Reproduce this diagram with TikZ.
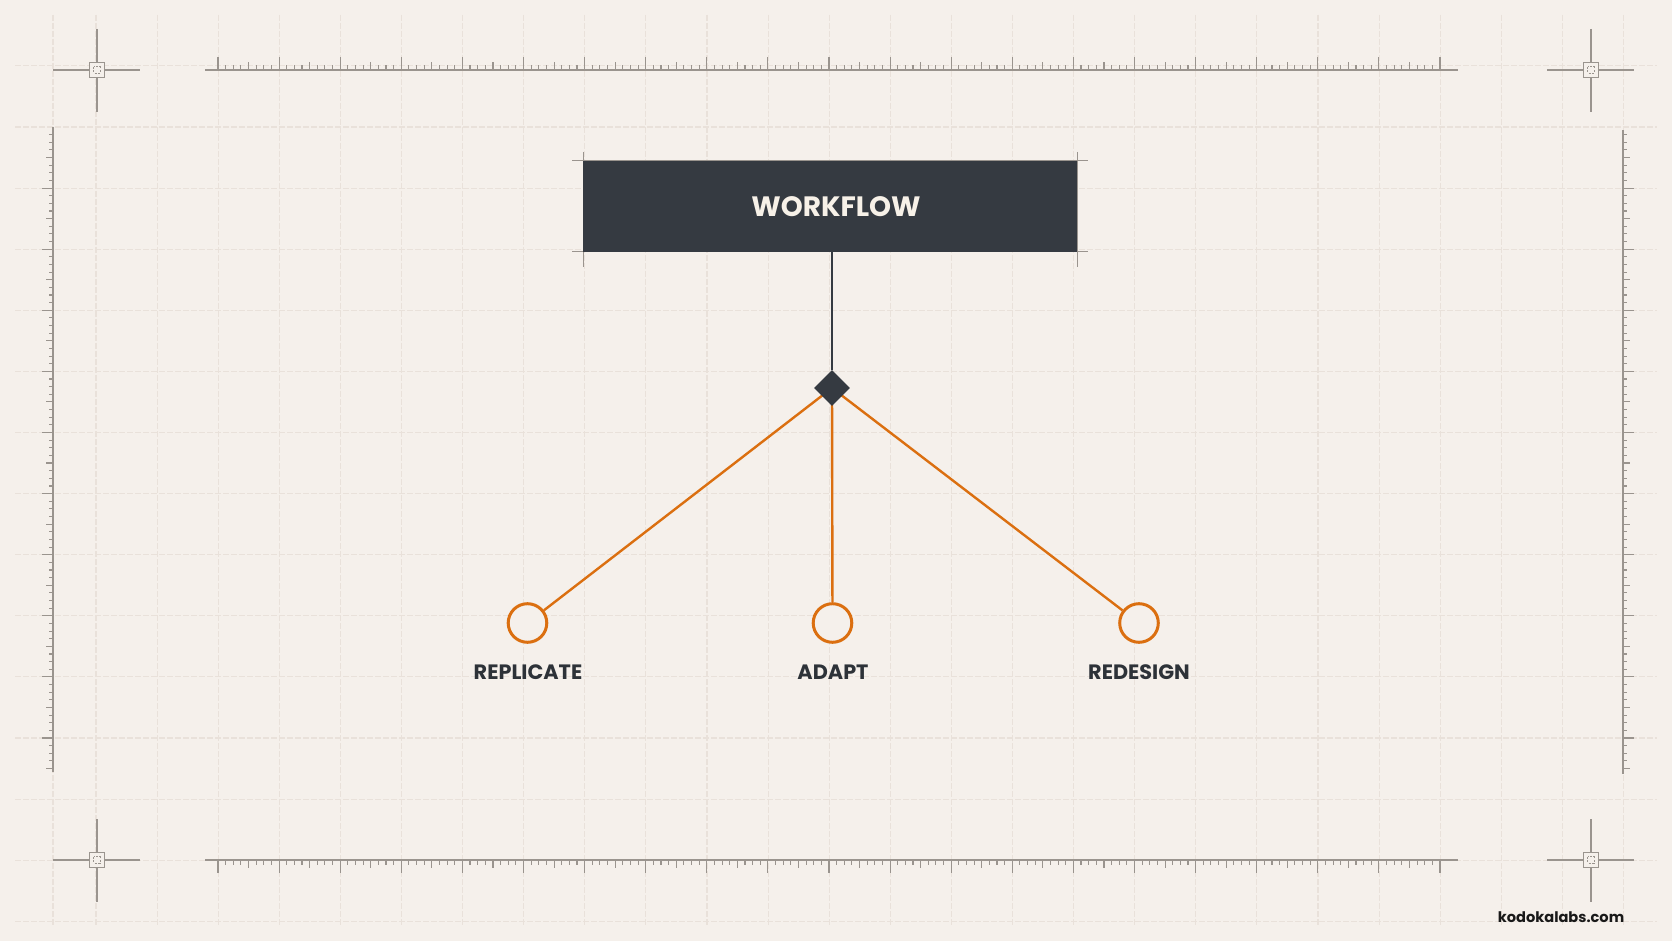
\documentclass[tikz,border=0pt]{standalone}
\usepackage{fontspec}
\setmainfont{Poppins}
\usetikzlibrary{shapes.geometric}
\pgfdeclarelayer{back}
\pgfdeclarelayer{mid}
\pgfsetlayers{back,mid,main}
\definecolor{bg}{HTML}{F5F0EB}
\definecolor{gridc}{HTML}{E9E1DA}
\definecolor{rulec}{HTML}{9A948E}
\definecolor{boxc}{HTML}{353A41}
\definecolor{orangec}{HTML}{DB6F10}
\definecolor{labelc}{HTML}{2D3238}
\definecolor{boxtext}{HTML}{F7F1E8}
\tikzset{
  gridline/.style={draw=gridc, line width=0.55pt, dash pattern=on 3pt off 1pt},
  ruler/.style={draw=rulec, line width=0.55pt},
  cross/.style={draw=rulec, line width=0.6pt},
  mainbox/.style={fill=boxc, draw=none, minimum width=247pt, minimum height=45.5pt, inner sep=0pt,
     text=boxtext, font=\bfseries\fontsize{14}{18}\selectfont},
  junction/.style={diamond, fill=boxc, draw=none, inner sep=0pt, minimum width=18pt, minimum height=18pt},
  leaf/.style={circle, draw=orangec, line width=1.5pt, fill=bg, minimum size=19.3pt, inner sep=0pt},
  leaflabel/.style={text=labelc, font=\bfseries\fontsize{10.4}{12}\selectfont, inner sep=0pt, anchor=base},
  branch/.style={draw=orangec, line width=1.2pt},
  stem/.style={draw=boxc, line width=1pt},
}
\begin{document}
\begin{tikzpicture}[x=0.5pt,y=-0.5pt]
\useasboundingbox (0,0) rectangle (1672,941);
\begin{pgfonlayer}{back}
\fill[bg] (0,0) rectangle (1672,941);
% grid
\foreach \i in {0,...,25} \draw[gridline] ({96+61.1*\i},15) -- ({96+61.1*\i},927);
\draw[gridline] (53,15) -- (53,927);
\foreach \j in {-1,...,13} \draw[gridline] (15,{127+61.1*\j}) -- (1657,{127+61.1*\j});
% top and bottom rulers
\draw[ruler] (205,70) -- (1458,70);
\draw[ruler] (205,860) -- (1458,860);
\foreach \n in {0,...,160} {
  \pgfmathsetmacro{\xx}{218+7.6375*\n}
  \pgfmathsetmacro{\L}{ifthenelse(mod(\n,8)==0,13,ifthenelse(mod(\n,8)==4,8,4.5))}
  \draw[ruler] (\xx,70) -- ++(0,-\L);
  \draw[ruler] (\xx,860) -- ++(0,\L);
}
% left and right rulers
\draw[ruler] (53,127) -- (53,772);
\draw[ruler] (1623,130) -- (1623,774);
\foreach \n in {-7,...,76} {
  \pgfmathsetmacro{\yy}{188.1+7.6375*\n}
  \pgfmathsetmacro{\L}{ifthenelse(mod(\n+8,8)==0,11,ifthenelse(mod(\n+8,8)==4,7,4))}
  \draw[ruler] (53,\yy) -- ++(-\L,0);
  \draw[ruler] (1623,\yy) -- ++(\L,0);
}
% crosshairs
\foreach \cx/\cy in {97/70, 1591/70, 97/860, 1591/860} {
  \draw[cross] (\cx-44,\cy) -- (\cx+43,\cy);
  \draw[cross] (\cx,\cy-41) -- (\cx,\cy+42);
  \draw[cross, fill=bg] (\cx-7.2,\cy-7.2) rectangle (\cx+7.2,\cy+7.2);
  \draw[cross, line width=0.4pt, dash pattern=on 1pt off 0.8pt] (\cx-3.2,\cy-3.2) rectangle (\cx+3.2,\cy+3.2);
}
% crop marks of the box
\draw[cross, line width=0.5pt] (572,161) -- (1088,161);
\draw[cross, line width=0.5pt] (572,252) -- (1088,252);
\draw[cross, line width=0.5pt] (583,152) -- (583,267);
\draw[cross, line width=0.5pt] (1077,152) -- (1077,267);
\end{pgfonlayer}
% main nodes
\node[mainbox] (wf) at (830,206.5) {\hspace*{6pt}WORKFLOW};
\node[junction] (j) at (832,388) {};
\node[leaf] (c1) at (527.5,623) {};
\node[leaf] (c2) at (832.5,623) {};
\node[leaf] (c3) at (1139,623) {};
\node[leaflabel] (l1) at (528,679.5) {REPLICATE};
\node[leaflabel] (l2) at (833,679.5) {ADAPT};
\node[leaflabel] (l3) at (1139,679.5) {REDESIGN};
% connectors
\draw[stem] (wf.south -| j) -- (j.north);
\begin{pgfonlayer}{mid}
\draw[branch] (j.center) -- (c1);
\draw[branch] (j.center) -- (c2);
\draw[branch] (j.center) -- (c3);
\end{pgfonlayer}
% watermark
\node[text=black!90, font=\bfseries\fontsize{7.3}{9}\selectfont, inner sep=0pt] (wm) at (1561,917) {kodokalabs.com};
\end{tikzpicture}
\end{document}
